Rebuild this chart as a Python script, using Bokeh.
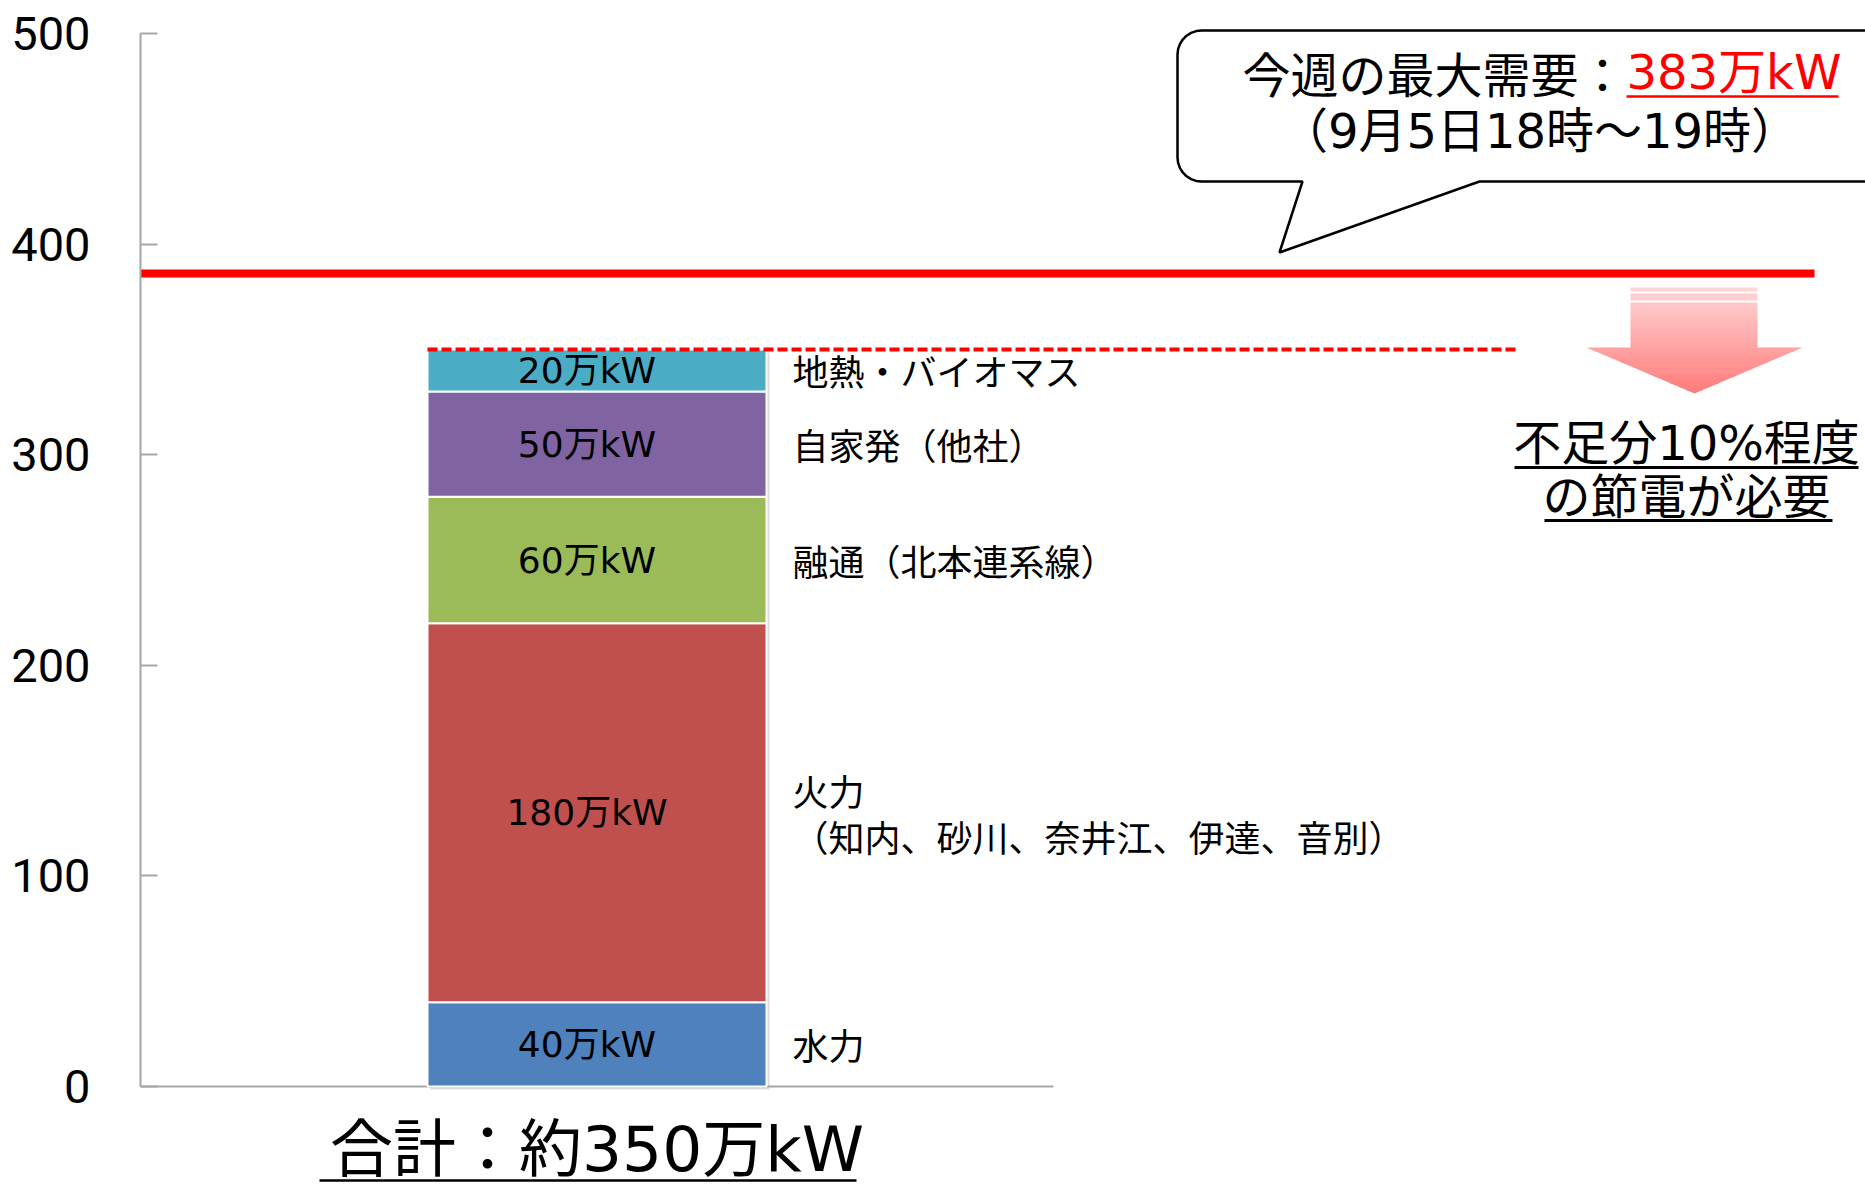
import numpy as np
from bokeh.plotting import figure
from bokeh.models import Range1d, FixedTicker
from bokeh.core.properties import value
from bokeh.embed import file_html
from bokeh.resources import INLINE

# ---------------- data ----------------
categories = ["合計：約350万kW"]
supply_values = [40, 180, 60, 50, 20]          # 万kW, bottom -> top
bar_labels = ["40万kW", "180万kW", "60万kW", "50万kW", "20万kW"]
source_names = ["水力",
                "火力\n（知内、砂川、奈井江、伊達、音別）",
                "融通（北本連系線）",
                "自家発（他社）",
                "地熱・バイオマス"]
seg_colors = ["#4F81BD", "#C0504D", "#9BBB59", "#8064A2", "#4BACC6"]
demand_level = 386                              # red line as drawn
callout_head = "今週の最大需要："
callout_value = "383万kW"
callout_time = "（9月5日18時～19時）"
shortage_text = ["不足分10%程度", "の節電が必要"]
y_ticks = [0, 100, 200, 300, 400, 500]

# ---------------- geometry helpers (reference pixel -> data) ----------------
W, H = 1865, 1185
Y0_PX = 1086.0
PPU_Y = 2.106
CAT_PX = 596.5
UNIT_X = 913.0

def dx(X):
    return 1.0 + (X - CAT_PX) / UNIT_X

def dy(Y):
    return (Y0_PX - Y) / PPU_Y

FRAME_LEFT = 140
p = figure(width=W, height=H,
           x_range=Range1d(dx(FRAME_LEFT), dx(W)),
           y_range=Range1d(dy(H), dy(0)),
           output_backend="svg", toolbar_location=None,
           min_border_left=FRAME_LEFT, min_border_right=0,
           min_border_top=0, min_border_bottom=0,
           x_axis_location=None, y_axis_location="left")
p.outline_line_color = None
p.grid.visible = False
p.background_fill_color = "white"
p.border_fill_color = "white"

ax = p.yaxis[0]
ax.ticker = FixedTicker(ticks=y_ticks)
ax.bounds = (min(y_ticks), max(y_ticks))
ax.axis_line_color = "#A6A6A6"
ax.axis_line_width = 2
ax.major_tick_line_color = "#A6A6A6"
ax.major_tick_line_width = 2
ax.major_tick_in = 17
ax.major_tick_out = 0
ax.minor_tick_line_color = None
ax.major_label_text_font = "Roboto"
ax.major_label_text_font_size = "47px"
ax.major_label_text_color = "black"
ax.major_label_standoff = 50

LATIN_CJK = value("DejaVu Sans, Noto Sans CJK JP")
CJK = value("Noto Sans CJK JP")

cat_x = 1.0
bar_w = 339.0 / UNIT_X
tops = list(np.cumsum(supply_values))
bottoms = [0] + tops[:-1]
mids = [(b + t) / 2 for b, t in zip(bottoms, tops)]
total = tops[-1]

# x-axis baseline
p.segment(x0=[cat_x - 0.5], x1=[cat_x + 0.5], y0=[0], y1=[0],
          line_color="#A6A6A6", line_width=2)

# bar shadow
p.vbar(x=[cat_x + 3 / UNIT_X], bottom=[-3 / PPU_Y], top=[total - 3 / PPU_Y],
       width=bar_w, fill_color="#9A9A9A", fill_alpha=0.35, line_color=None)

# stacked bar
p.vbar(x=[cat_x] * len(supply_values), bottom=bottoms, top=tops, width=bar_w,
       fill_color=seg_colors, line_color="white", line_width=2)

# bar labels
p.text(x=[cat_x] * len(bar_labels), y=mids, text=bar_labels,
       text_align="center", text_baseline="middle", x_offset=-10,
       text_font=LATIN_CJK, text_font_size="36px", text_color="black")

# right labels (multi-line split)
lx, ly, lt = [], [], []
LINE_H = 46.0
for name, m in zip(source_names, mids):
    lines = name.split("\n")
    n = len(lines)
    for i, ln in enumerate(lines):
        lx.append(cat_x + bar_w / 2)
        ly.append(m - (i - (n - 1) / 2) * LINE_H / PPU_Y)
        lt.append(ln)
p.text(x=lx, y=ly, text=lt, text_align="left", text_baseline="middle", x_offset=26,
       text_font=CJK, text_font_size="36px", text_color="black")

# supply total dashed line
p.segment(x0=[cat_x - bar_w / 2], x1=[dx(1516)], y0=[total], y1=[total],
          line_color="#FF0000", line_width=4, line_dash="10 4")

# demand line
p.segment(x0=[dx(136)], x1=[dx(1814)], y0=[demand_level], y1=[demand_level],
          line_color="#FF0000", line_width=8)

# category label + underline
p.text(x=[cat_x], y=[dy(1149)], text=categories, text_align="center",
       text_baseline="middle", text_font=LATIN_CJK, text_font_size="63px",
       text_color="black")
p.segment(x0=[dx(319)], x1=[dx(856)], y0=[dy(1180)], y1=[dy(1180)],
          line_color="black", line_width=2.5)

# callout bubble
L, T, B, R, r = 1177, 30, 181, 1920, 24
pts = [(1302, B), (1279, 252), (1479, B), (R, B), (R, T), (L + r, T)]
for a in np.linspace(np.pi / 2, np.pi, 8)[1:]:
    pts.append((L + r + r * np.cos(a), T + r - r * np.sin(a)))
pts.append((L, B - r))
for a in np.linspace(np.pi, 1.5 * np.pi, 8)[1:]:
    pts.append((L + r + r * np.cos(a), B - r - r * np.sin(a)))
p.patch(x=[dx(q[0]) for q in pts], y=[dy(q[1]) for q in pts],
        fill_color="white", line_color="black", line_width=2.5)

split_x = 1626
p.text(x=[dx(split_x)], y=[dy(71)], text=[callout_head], text_align="right",
       text_baseline="middle", text_font=CJK, text_font_size="48px", text_color="black")
p.text(x=[dx(split_x)], y=[dy(71)], text=[callout_value], text_align="left",
       text_baseline="middle", text_font=LATIN_CJK, text_font_size="48px", text_color="#FF0000")
p.segment(x0=[dx(split_x)], x1=[dx(1838)], y0=[dy(96)], y1=[dy(96)],
          line_color="#FF0000", line_width=2.5)
p.text(x=[dx(1539)], y=[dy(130)], text=[callout_time], text_align="center",
       text_baseline="middle", text_font=LATIN_CJK, text_font_size="48px", text_color="black")

# gradient arrow
def col(yv):
    t = (yv - 287) / (393 - 287)
    g = int(round(215 + (122 - 215) * t))
    return "#%02X%02X%02X" % (255, g, g)

axs, ays, acs = [], [], []
for y0s, y1s in [(287, 291), (293, 300)]:
    axs.append([dx(1630), dx(1757), dx(1757), dx(1630)])
    ays.append([dy(y0s), dy(y0s), dy(y1s), dy(y1s)])
    acs.append(col((y0s + y1s) / 2))
edges = np.linspace(302, 347, 10)
for a, b in zip(edges[:-1], edges[1:]):
    axs.append([dx(1630), dx(1757), dx(1757), dx(1630)])
    ays.append([dy(a), dy(a), dy(b + 0.6), dy(b + 0.6)])
    acs.append(col((a + b) / 2))
hx, tip_y, base_y, hw = 1694, 393, 347, 108
edges = np.linspace(base_y, tip_y, 14)
for a, b in zip(edges[:-1], edges[1:]):
    bb = min(b + 0.6, tip_y)
    wa = hw * (tip_y - a) / (tip_y - base_y)
    wb = hw * (tip_y - bb) / (tip_y - base_y)
    axs.append([dx(hx - wa), dx(hx + wa), dx(hx + wb), dx(hx - wb)])
    ays.append([dy(a), dy(a), dy(bb), dy(bb)])
    acs.append(col((a + b) / 2))
p.patches(xs=axs, ys=ays, fill_color=acs, line_color=None)

# shortage text + underlines
p.text(x=[dx(1686)] * 2, y=[dy(442), dy(496)], text=shortage_text, text_align="center",
       text_baseline="middle", text_font=LATIN_CJK, text_font_size="48px", text_color="black")
p.segment(x0=[dx(1514), dx(1544)], x1=[dx(1858), dx(1832)],
          y0=[dy(467), dy(520)], y1=[dy(467), dy(520)],
          line_color="black", line_width=3)

# logo fragment at bottom right (cut off by the page edge, as in the source)
p.text(x=[dx(1806)], y=[dy(1218)], text=["ほくでん"], text_align="left",
       text_baseline="alphabetic", text_font=CJK, text_font_size="56px",
       text_font_style="bold", text_color="#1F6EB8")

open("out.html", "w").write(file_html(p, INLINE))
